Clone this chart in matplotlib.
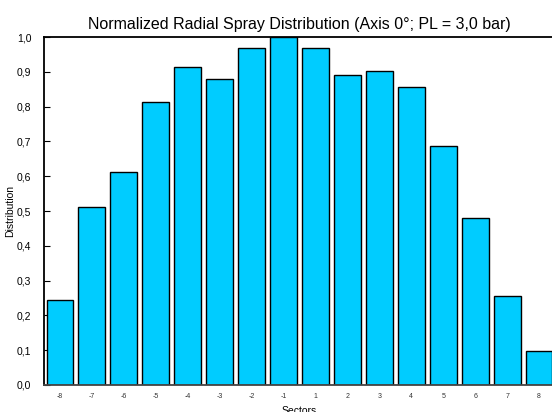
import matplotlib.pyplot as plt
import numpy as np

plt.rcParams['font.family'] = ['Liberation Sans', 'DejaVu Sans']

sectors = ["-8", "-7", "-6", "-5", "-4", "-3", "-2", "-1",
           "1", "2", "3", "4", "5", "6", "7", "8"]
distribution = [0.244, 0.512, 0.612, 0.813, 0.913, 0.878, 0.969, 1.0,
                0.969, 0.891, 0.901, 0.855, 0.687, 0.480, 0.256, 0.099]
yticks = [0.0, 0.1, 0.2, 0.3, 0.4, 0.5, 0.6, 0.7, 0.8, 0.9, 1.0]
ylabels = ["0,0", "0,1", "0,2", "0,3", "0,4", "0,5", "0,6", "0,7", "0,8", "0,9", "1,0"]

fig = plt.figure(figsize=(5.52, 4.12), dpi=100)
# axes runs a little past the right edge, so the last bar is clipped
ax = fig.add_axes([44 / 552, 27 / 412, 511 / 552, 348 / 412])

pos = np.arange(len(sectors))
ax.bar(pos, distribution, width=0.84, color="#00ccff",
       edgecolor="black", linewidth=1.0, zorder=2)

ax.set_xlim(-0.5, 15.5)
ax.set_ylim(0, 1.0)
ax.set_yticks(yticks)
ax.set_yticklabels(ylabels, fontsize=7.5)
ax.set_xticks(pos)
ax.set_xticklabels(sectors, fontsize=5, color="#333333")
ax.tick_params(axis="y", direction="in", length=4, width=0.8, pad=9)
ax.tick_params(axis="x", length=0, pad=6)

ax.spines["right"].set_visible(False)
ax.spines["left"].set_linewidth(1.3)
ax.spines["top"].set_linewidth(1.3)
ax.spines["bottom"].set_linewidth(1.3)
ax.spines["bottom"].set_color("#444444")

ax.set_title("Normalized Radial Spray Distribution (Axis 0°; PL = 3,0 bar)",
             fontsize=11.5, pad=6)
ax.set_ylabel("Distribution", fontsize=7.5)
ax.yaxis.set_label_coords(-0.057, 0.5)
ax.set_xlabel("Sectors", fontsize=7.5, labelpad=4)

fig.savefig("out.png", dpi=100)
